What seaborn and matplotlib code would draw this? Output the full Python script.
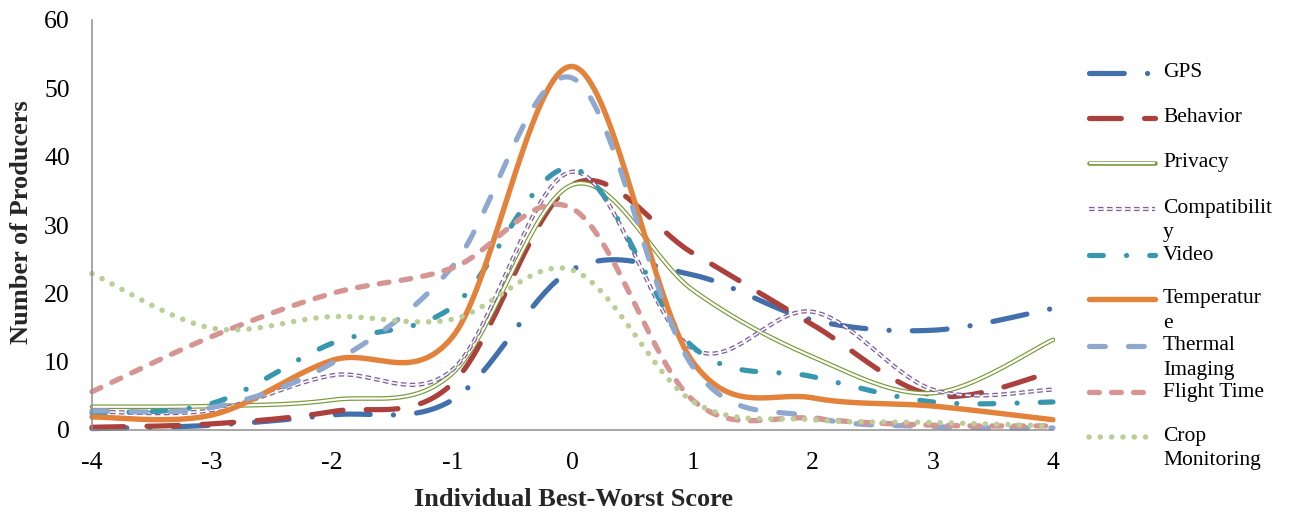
import numpy as np
import pandas as pd
import matplotlib
matplotlib.use("Agg")
import matplotlib.pyplot as plt
from matplotlib.lines import Line2D
import seaborn as sns

# ---------------- data ----------------
scores = [-4, -3, -2, -1, 0, 1, 2, 3, 4]
gps = [0.2, 0.7, 2.2, 4.4, 23.5, 22.7, 16.1, 14.6, 17.8]
behavior = [0.4, 0.9, 2.7, 6.8, 35.9, 25.9, 15.4, 5.1, 8.5]
privacy = [3.4, 3.5, 4.4, 8.3, 35.9, 20.5, 10.7, 5.4, 13.2]
compatibility = [2.7, 2.9, 8.0, 8.8, 37.8, 11.9, 17.3, 5.9, 5.9]
video = [2.5, 3.9, 12.7, 18.0, 38.3, 12.2, 7.8, 4.1, 4.1]
temperature = [1.9, 2.2, 10.2, 13.6, 53.2, 10.0, 4.7, 3.5, 1.5]
thermal = [2.8, 3.3, 9.8, 23.9, 51.5, 9.3, 1.9, 0.5, 0.3]
flight = [5.6, 13.7, 20.0, 23.7, 32.4, 4.4, 1.7, 0.7, 0.6]
crop = [22.9, 14.9, 16.6, 16.2, 23.4, 4.2, 1.5, 1.1, 0.6]

series_names = ["GPS", "Behavior", "Privacy", "Compatibility", "Video",
                "Temperature", "Thermal Imaging", "Flight Time", "Crop Monitoring"]
legend_labels = ["GPS", "Behavior", "Privacy", "Compatibilit\ny", "Video",
                 "Temperatur\ne", "Thermal\nImaging", "Flight Time", "Crop\nMonitoring"]
series_values = [gps, behavior, privacy, compatibility, video,
                 temperature, thermal, flight, crop]

y_ticks = [0, 10, 20, 30, 40, 50, 60]
x_ticks = [-4, -3, -2, -1, 0, 1, 2, 3, 4]

# ---------------- styling ----------------
W, H, DPI = 1289, 514, 100
plt.rcParams["lines.scale_dashes"] = False
sns.set_style("white")
plt.rcParams["font.family"] = ["Liberation Serif", "DejaVu Serif"]

PX = 0.72  # points per pixel at 100 dpi

styles = {
    "GPS": dict(color="#4270AC", lw=5.2, ls=(0, (34.8, 23.2, 0.1, 23.2))),
    "Behavior": dict(color="#AC403D", lw=5.2, ls=(0, (31.8, 23.2))),
    "Privacy": dict(color="#7A9A3A", lw=4.6, ls="-", inner=2.2),
    "Compatibility": dict(color="#7D5F9E", lw=4.2, ls=(0, (5.5, 3.5)), inner=1.6, butt=True),
    "Video": dict(color="#3797AE", lw=5.2, ls=(0, (13.8, 23.2, 0.1, 23.2))),
    "Temperature": dict(color="#E3823A", lw=5.4, ls="-"),
    "Thermal Imaging": dict(color="#8EA8D0", lw=5.2, ls=(0, (15.8, 23.2))),
    "Flight Time": dict(color="#D69592", lw=5.3, ls=(0, (9.8, 12.2))),
    "Crop Monitoring": dict(color="#B9CF95", lw=5.5, ls=(0, (0.1, 11.2))),
}


def to_pt_ls(ls):
    if isinstance(ls, str):
        return ls
    off, pat = ls
    return (off * PX, tuple(p * PX for p in pat))


def excel_smooth(xs, ys, n=40):
    """Bezier smoothing of a line through the data points (Excel 'smoothed line')."""
    P = np.column_stack([xs, ys]).astype(float)
    ext = np.vstack([P[0], P, P[-1]])
    out = []
    t = np.linspace(0, 1, n)[:, None]
    for i in range(len(P) - 1):
        p0, p1 = ext[i + 1], ext[i + 2]
        c1 = p0 + (ext[i + 2] - ext[i]) / 6.0
        c2 = p1 - (ext[i + 3] - ext[i + 1]) / 6.0
        seg = ((1 - t) ** 3) * p0 + 3 * ((1 - t) ** 2) * t * c1 + 3 * (1 - t) * t ** 2 * c2 + t ** 3 * p1
        out.append(seg if i == 0 else seg[1:])
    out = np.vstack(out)
    return out[:, 0], out[:, 1]


fig = plt.figure(figsize=(W / DPI, H / DPI), dpi=DPI)
ax = fig.add_axes([92 / W, 1 - 430 / H, (1053 - 92) / W, (430 - 20) / H])

for name, vals in zip(series_names, series_values):
    st = styles[name]
    sx, sy = excel_smooth(scores, vals)
    df = pd.DataFrame({"x": sx, "y": sy})
    cap = "butt" if st.get("butt") else "round"
    sns.lineplot(data=df, x="x", y="y", ax=ax, sort=False, estimator=None,
                 color=st["color"], linewidth=st["lw"] * PX, linestyle=to_pt_ls(st["ls"]),
                 dash_capstyle=cap, solid_capstyle="round", clip_on=False)
    if "inner" in st:
        sns.lineplot(data=df, x="x", y="y", ax=ax, sort=False, estimator=None,
                     color="white", linewidth=st["inner"] * PX, linestyle=to_pt_ls(st["ls"]),
                     dash_capstyle=cap, solid_capstyle="round", clip_on=False)

ax.set_xlim(-4, 4)
ax.set_ylim(0, 60)
ax.set_xticks(x_ticks)
ax.set_yticks(y_ticks)
ax.set_xticklabels([str(v) for v in x_ticks])
ax.set_yticklabels([str(v) for v in y_ticks])
ax.tick_params(axis="both", length=0, labelsize=18.5, colors="black")
ax.tick_params(axis="y", pad=16)
ax.tick_params(axis="x", pad=16)
for s in ["top", "right"]:
    ax.spines[s].set_visible(False)
for s in ["left", "bottom"]:
    ax.spines[s].set_color("#8C8C8C")
    ax.spines[s].set_linewidth(1.5 * PX)
ax.grid(False)
ax.set_xlabel("")
ax.set_ylabel("")

fig.text(573 / W, 1 - 499 / H, "Individual Best-Worst Score", ha="center", va="center",
         fontsize=19, fontweight="bold")
fig.text(22 / W, 1 - 222 / H, "Number of Producers", ha="center", va="center",
         rotation=90, fontsize=19, fontweight="bold")

# ---------------- legend (drawn like Excel's) ----------------
leg_y = [73, 118, 163, 209, 255, 299, 346, 392, 437]
for name, lab, py in zip(series_names, legend_labels, leg_y):
    st = styles[name]
    cap = "butt" if st.get("butt") else "round"
    yy = 1 - py / H
    fig.add_artist(Line2D([1089 / W, 1155 / W], [yy, yy], transform=fig.transFigure,
                          color=st["color"], linewidth=st["lw"] * PX,
                          linestyle=to_pt_ls(st["ls"]), dash_capstyle=cap,
                          solid_capstyle="round"))
    if "inner" in st:
        fig.add_artist(Line2D([1089 / W, 1155 / W], [yy, yy], transform=fig.transFigure,
                              color="white", linewidth=st["inner"] * PX,
                              linestyle=to_pt_ls(st["ls"]), dash_capstyle=cap,
                              solid_capstyle="butt"))
    for k, line in enumerate(lab.split("\n")):
        fig.text(1163 / W, 1 - (py + 24 * k) / H, line, ha="left", va="center",
                 fontsize=15.5, color="black")

fig.savefig("out.png", dpi=DPI)
